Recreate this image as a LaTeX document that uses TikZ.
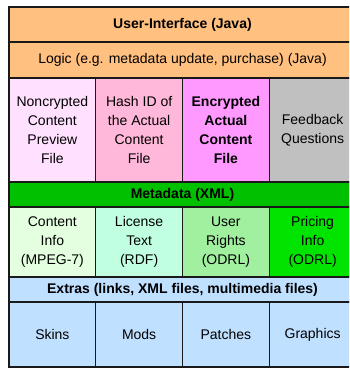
\documentclass[tikz,border=0pt]{standalone}
\usepackage{fontspec}
\setmainfont{Liberation Sans}
\usepackage{xcolor}
\usepackage{tikz}
\usetikzlibrary{positioning}
\definecolor{layerorange}{HTML}{FFC080}
\definecolor{previewpink}{HTML}{FFE0FF}
\definecolor{hashpink}{HTML}{FFB8DA}
\definecolor{cryptmagenta}{HTML}{FF99FF}
\definecolor{feedbackgray}{HTML}{C0C0C0}
\definecolor{metagreen}{HTML}{00C000}
\definecolor{infogreen}{HTML}{E4FFE0}
\definecolor{licensemint}{HTML}{C0FFE0}
\definecolor{rightsgreen}{HTML}{A0F0A0}
\definecolor{pricegreen}{HTML}{00E400}
\definecolor{extrasblue}{HTML}{C0E0FF}
\tikzset{
  layerbox/.style={draw=black!90,line width=1.4pt,inner sep=0pt,outer sep=0pt,
    minimum width=347pt,align=center,font=\fontsize{14}{19}\selectfont},
  cellbox/.style={draw=black!90,line width=1.4pt,inner sep=0pt,outer sep=0pt,
    minimum width=86.75pt,align=center,font=\fontsize{14}{19}\selectfont},
  headtext/.style={font=\fontsize{14}{19}\selectfont\bfseries}
}

\begin{document}
\begin{tikzpicture}[x=1pt,y=1pt]
  \useasboundingbox (0,0) rectangle (349,369);
  \clip (0,0) rectangle (349,369);
  % application layers
  \node[layerbox,headtext,fill=layerorange,minimum height=35pt] (ui) at (182.5,344.5)
    {User-Interface (Java)};
  \node[layerbox,fill=layerorange,minimum height=36pt] (logic) at (182.5,309)
    {Logic (e.g. metadata update, purchase) (Java)};
  % content files
  \node[cellbox,fill=previewpink,minimum height=104pt] (preview) at (52.375,239)
    {Noncrypted\\Content\\Preview\\File};
  \node[cellbox,fill=hashpink,minimum height=104pt] (hash) at (139.125,239)
    {Hash ID of\\the Actual\\Content\\File};
  \node[cellbox,headtext,fill=cryptmagenta,minimum height=104pt] (crypted) at (225.875,239)
    {Encrypted\\Actual\\Content\\File};
  \node[cellbox,fill=feedbackgray,minimum height=104pt] (feedback) at (312.625,239)
    {Feedback\\Questions};
  % metadata
  \node[layerbox,headtext,fill=metagreen,minimum height=25pt] (meta) at (182.5,174.5)
    {Metadata (XML)};
  \node[cellbox,fill=infogreen,minimum height=70pt] (info) at (52.375,127)
    {Content\\Info\\(MPEG-7)};
  \node[cellbox,fill=licensemint,minimum height=70pt] (license) at (139.125,127)
    {License\\Text\\(RDF)};
  \node[cellbox,fill=rightsgreen,minimum height=70pt] (rights) at (225.875,127)
    {User\\Rights\\(ODRL)};
  \node[cellbox,fill=pricegreen,minimum height=70pt] (pricing) at (312.625,127)
    {Pricing\\Info\\(ODRL)};
  % extras
  \node[layerbox,headtext,fill=extrasblue,minimum height=25pt] (extras) at (182.5,79.5)
    {Extras (links, XML files, multimedia files)};
  \foreach \name/\label [count=\i from 0] in {skins/Skins,mods/Mods,patches/Patches,graphics/Graphics}
    \node[cellbox,fill=extrasblue,minimum height=65pt] (\name) at (52.375+86.75*\i,34.5) {\label};
\end{tikzpicture}
\end{document}
